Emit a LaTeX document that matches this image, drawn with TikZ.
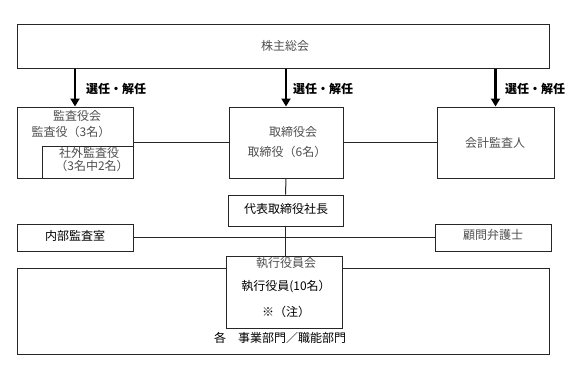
\documentclass[tikz,border=0pt]{standalone}
\usepackage{fontspec}
\setmainfont{Noto Sans CJK JP}
\usetikzlibrary{arrows.meta}
\definecolor{txtgray}{HTML}{505050}
\begin{document}
\begin{tikzpicture}[x=1pt,y=-1pt,
  font=\fontsize{12}{14}\selectfont,
  box/.style={draw=black!85,line width=1pt,rectangle,inner sep=0pt,fill=white},
  lbl/.style={inner sep=0pt,text=txtgray},
  klbl/.style={inner sep=0pt,text=black},
  blbl/.style={inner sep=0pt,text=black,font=\fontsize{12}{14}\selectfont\bfseries},
  arr/.style={-{Triangle[length=8pt,width=9pt]},line width=2pt},
  ln/.style={line width=1pt,draw=black!85}]
\useasboundingbox (0,0) rectangle (588,368);
% boxes
\node[box,minimum width=532pt,minimum height=44pt] (kabu) at (283,46) {};
\node[box,minimum width=116pt,minimum height=71pt] (kansa) at (75,142.5) {};
\node[box,minimum width=91pt,minimum height=32pt] (shagai) at (87.5,162) {};
\node[box,minimum width=114pt,minimum height=71pt] (tori) at (286,142.5) {};
\node[box,minimum width=117pt,minimum height=71pt] (kaikei) at (495.5,142.5) {};
\node[box,minimum width=115pt,minimum height=31pt] (daihyo) at (285.5,210.5) {};
\node[box,minimum width=116pt,minimum height=27pt] (naibu) at (75,237.5) {};
\node[box,minimum width=116pt,minimum height=27pt] (komon) at (493,237.5) {};
\node[box,minimum width=532pt,minimum height=86pt] (bumon) at (283,311) {};
\node[box,minimum width=116pt,minimum height=72pt] (shikko) at (284,292) {};
% texts
\node[lbl] (tkabu) at (285,46) {株主総会};
\node[lbl] (tkansa1) at (77,116) {監査役会};
\node[lbl] (tkansa2) at (71,132) {監査役（3名）};
\node[lbl] (tshagai1) at (89,153) {社外監査役};
\node[lbl] (tshagai2) at (92,166) {（3名中2名）};
\node[lbl] (ttori1) at (293,132) {取締役会};
\node[lbl] (ttori2) at (287,152) {取締役（6名）};
\node[lbl] (tkaikei) at (495,143) {会計監査人};
\node[klbl] (tdaihyo) at (286,209) {代表取締役社長};
\node[klbl] (tnaibu) at (75,236) {内部監査室};
\node[lbl] (tkomon) at (493,235) {顧問弁護士};
\node[lbl] (tshikko1) at (286,263) {執行役員会};
\node[klbl] (tshikko2) at (286,287) {執行役員(10名）};
\node[klbl] (tshikko3) at (286,312) {※（注）};
\node[klbl] (tbumon) at (280,338) {各\hspace{1em}事業部門／職能部門};
% arrows
\draw[arr] (kansa.north |- kabu.south) -- (kansa.north);
\draw[arr] (tori.north |- kabu.south) -- (tori.north);
\draw[arr,line width=3pt] (kaikei.north |- kabu.south) -- (kaikei.north);
\node[blbl,anchor=west] (sel1) at (86,89) {選任・解任};
\node[blbl,anchor=west] (sel2) at (293,89) {選任・解任};
\node[blbl,anchor=west] (sel3) at (505,89) {選任・解任};
% connectors
\draw[ln] (kansa.east) -- (tori.west);
\draw[ln] (tori.east) -- (kaikei.west);
\draw[ln] (tori.south) -- (daihyo.north);
\draw[ln] (daihyo.south) -- (daihyo.south |- shikko.north);
\draw[ln] (naibu.east) -- (komon.west);
\end{tikzpicture}
\end{document}
